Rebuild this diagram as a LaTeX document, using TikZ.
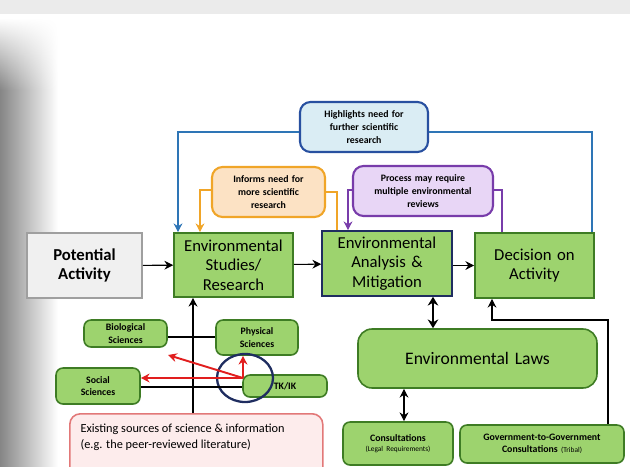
\documentclass[tikz,border=0pt]{standalone}
\usepackage{fontspec}
\setmainfont{Carlito}
\usetikzlibrary{arrows.meta,fadings}
\definecolor{boxgreen}{RGB}{157,211,110}
\definecolor{linegreen}{RGB}{62,124,36}
\definecolor{navy}{RGB}{31,45,96}
\definecolor{hlblue}{RGB}{46,117,182}
\definecolor{hlfill}{RGB}{218,237,244}
\definecolor{hlborder}{RGB}{40,80,160}
\definecolor{orline}{RGB}{240,165,40}
\definecolor{orfill}{RGB}{252,226,196}
\definecolor{puline}{RGB}{120,60,170}
\definecolor{pufill}{RGB}{232,214,246}
\definecolor{pkfill}{RGB}{253,236,236}
\definecolor{pkline}{RGB}{226,120,120}
\definecolor{redarrow}{RGB}{225,30,30}

\begin{document}
\begin{tikzpicture}[x=0.02cm,y=-0.02cm,>={Stealth[length=5pt,width=5pt]},semithick,
        every node/.style={inner sep=0pt,align=center},
        bigbox/.style={draw=linegreen,fill=boxgreen,line width=0.9pt,font=\fontsize{9.5}{11.2}\selectfont},
        smallbox/.style={draw=linegreen,fill=boxgreen,rounded corners=4pt,line width=0.9pt,font=\fontsize{5.6}{7}\selectfont\bfseries},
        notebox/.style={rounded corners=6pt,line width=1.2pt,font=\fontsize{5.6}{7.4}\selectfont\bfseries}]
        \useasboundingbox (0,0) rectangle (630,467);
        \fill[gray!16] (0,0) rectangle (630,14);
        \shade[left color=gray!95,right color=white] (0,90) rectangle (58,467);
        \shade[left color=gray!95,right color=white,path fading=north] (0,18) rectangle (58,90);

        \node[draw=gray!75,fill=gray!12,line width=0.9pt,font=\fontsize{9.5}{11.2}\selectfont\bfseries,
              text width=115*0.02cm,minimum height=65*0.02cm] (pa) at (84.5,265.5) {Potential\\Activity};
        \node[bigbox,text width=119*0.02cm,minimum height=64*0.02cm] (esr) at (233.5,265) {Environmental\\Studies/\\Research};
        \node[bigbox,draw=navy,text width=130*0.02cm,minimum height=65*0.02cm] (eam) at (387,263.5) {Environmental\\Analysis \&\\Mitigation};
        \node[bigbox,text width=119*0.02cm,minimum height=65*0.02cm] (doa) at (534.5,265.5) {Decision on\\Activity};

        \node[notebox,draw=hlborder,fill=hlfill,text width=128*0.02cm,minimum height=50*0.02cm] (hl) at (364,127) {Highlights need for\\further scientific\\research};
        \node[notebox,draw=orline,fill=orfill,text width=113*0.02cm,minimum height=50*0.02cm] (inf) at (268.5,192) {Informs need for\\more scientific\\research};
        \node[notebox,draw=puline,fill=pufill,text width=140*0.02cm,minimum height=50*0.02cm] (pmr) at (423,191) {Process may require\\multiple environmental\\reviews};

        \node[smallbox,rounded corners=8pt,font=\fontsize{10}{12}\selectfont,text width=239*0.02cm,minimum height=59*0.02cm] (law) at (477.5,358.5) {Environmental Laws};
        \node[smallbox,text width=110*0.02cm,minimum height=43*0.02cm] (con) at (398,443.5) {Consultations\\[-1pt]{\fontsize{4.2}{5}\selectfont\mdseries (Legal Requirements)}};
        \node[smallbox,text width=164*0.02cm,minimum height=38*0.02cm] (g2g) at (542,444) {Government-to-Government\\Consultations {\fontsize{4.2}{5}\selectfont\mdseries (Tribal)}};

        \node[smallbox,text width=83*0.02cm,minimum height=27*0.02cm] (bio) at (125.5,333.5) {Biological\\Sciences};
        \node[smallbox,text width=82*0.02cm,minimum height=35*0.02cm] (phy) at (257,337.5) {Physical\\Sciences};
        \node[smallbox,text width=84*0.02cm,minimum height=36*0.02cm] (soc) at (98,386) {Social\\Sciences};
        \node[smallbox,text width=84*0.02cm,minimum height=22*0.02cm] (tk) at (285,386) {TK/IK};
        \node[draw=pkline,fill=pkfill,rounded corners=6pt,line width=0.9pt,minimum width=253*0.02cm,minimum height=70*0.02cm,
              anchor=north west] (ex) at (69,413) {};
        \node[anchor=north west,align=left,font=\fontsize{7}{9.4}\selectfont] (extext) at (80,423)
              {Existing sources of science \& information\\(e.g. the peer-reviewed literature)};

        \coordinate (tkin) at (243,378);
        \draw[navy,line width=1.3pt] (245,378) ellipse [x radius=28,y radius=24];

        \path[->] (pa) edge (esr)
                  (esr) edge (eam)
                  (eam.east |- doa) edge (doa);
        \draw[line width=1.6pt,{Stealth[length=5pt,width=6pt]}-{Stealth[length=5pt,width=6pt]}] (eam.south -| 433,0) -- (law.north -| 433,0);
        \draw[<->] (law.south -| 404,0) -- (con.north -| 404,0);
        \draw[->] (g2g.north -| 608,0) |- (492,320) -- (doa.south -| 492,0);
        \draw[line width=1.1pt,->] (ex.north -| 193,0) -- (esr.south -| 193,0);
        \draw (bio.east |- 0,337) -- (phy.west |- 0,337);
        \draw (soc.east |- 0,387) -- (tk.west |- 0,387);

        \draw[hlblue,->] (hl.west |- 0,132) -| (esr.north -| 178,0);
        \draw[hlblue] (hl.east |- 0,132) -| (doa.north -| 592,0);
        \draw[orline,->] (inf.west |- 0,190) -| (esr.north -| 200,0);
        \draw[orline] (inf.east |- 0,192) -| (eam.north -| 337,0);
        \draw[puline,->] (pmr.west |- 0,190) -| (eam.north -| 348,0);
        \draw[puline] (pmr.east |- 0,190) -| (doa.north -| 502,0);

        \path[redarrow,line width=1.1pt,->] (tkin) edge (168,355)
                                              edge (soc.east |- tkin)
                                              edge (tkin |- phy.south);
\end{tikzpicture}
\end{document}
